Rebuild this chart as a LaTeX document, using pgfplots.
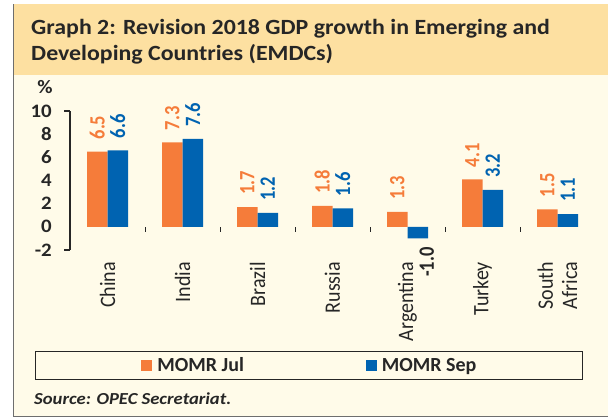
\documentclass[border=0pt]{standalone}
\usepackage{fontspec}
\setmainfont{Carlito}
\usepackage{pgfplots}
\pgfplotsset{compat=1.18}
\definecolor{julorange}{RGB}{245,124,58}
\definecolor{sepblue}{RGB}{0,99,177}
\definecolor{bandcol}{RGB}{253,224,161}
\definecolor{creamcol}{RGB}{255,251,233}
\definecolor{textdark}{RGB}{38,38,38}
\definecolor{framecol}{RGB}{110,110,110}
\begin{document}
\begin{tikzpicture}[x=1pt,y=1pt]
\path[use as bounding box] (0,0) rectangle (608,418);
\fill[creamcol] (13,2) rectangle (608,414);
\fill[bandcol] (13,343) rectangle (608,414);
\draw[framecol, line width=0.9pt] (608,2) -- (13,2) -- (13,414);
\node[anchor=base west, inner sep=0pt, xscale=1.1, text=textdark, font=\fontsize{21.7}{25}\selectfont\bfseries] at (31,383) {Graph 2: Revision 2018 GDP growth in Emerging and};
\node[anchor=base west, inner sep=0pt, xscale=1.1, text=textdark, font=\fontsize{21.7}{25}\selectfont\bfseries] at (31,357) {Developing Countries (EMDCs)};
\node[inner sep=0pt, xscale=1.1, text=textdark, font=\fontsize{19}{20}\selectfont\bfseries] at (45,331) {\%};
\node[anchor=base west, inner sep=0pt, xscale=1.11, text=textdark, font=\fontsize{16.8}{20}\selectfont\bfseries\itshape] at (34,14) {Source: OPEC Secretariat.};
\begin{axis}[
  at={(70pt,168pt)}, anchor=south west,
  width=525pt, height=139pt, scale only axis,
  xmin=-0.5, xmax=6.5, ymin=-2, ymax=10,
  axis x line*=middle, axis y line*=left,
  x axis line style={draw=none},
  y axis line style={textdark, line width=1.6pt},
  /pgf/number format/assume math mode=true,
  ybar=0pt, bar width=20.5pt,
  xtick={0,...,6},
  xticklabels={China,India,Brazil,Russia,Argentina,Turkey,{South\\Africa}},
  ytick={-2,0,...,10},
  xtick style={draw=none}, ytick style={draw=none},
  major tick length=0pt,
  x tick label style={yshift=-35pt, rotate=90, yscale=1.1, anchor=east, align=right, inner sep=0pt, font=\fontsize{20}{22}\selectfont, text=textdark},
  y tick label style={xshift=-18pt, xscale=1.1, anchor=east, inner sep=0pt, font=\fontsize{19}{20}\selectfont\bfseries, text=textdark},
  extra x ticks={0.5,1.5,2.5,3.5,4.5,5.5}, extra x tick labels={},
  extra x tick style={major tick length=5pt, tick align=outside, xtick style={draw=textdark, line width=0.8pt}},
  extra y ticks={-2,10}, extra y tick labels={},
  extra y tick style={major tick length=6pt, tick align=outside, ytick style={draw=textdark, line width=1.6pt}},
  legend style={at={(-0.0667,-0.831)}, anchor=west, draw=textdark, line width=0.8pt, fill=none,
    inner xsep=106pt, inner ysep=6pt, nodes={inner sep=0pt},
    font=\fontsize{20}{20}\selectfont\bfseries, text=textdark,
    /tikz/every odd column/.append style={column sep=5pt},
    /tikz/every even column/.append style={column sep=122pt}},
  legend columns=2,
  legend image code/.code={\fill[#1] (0pt,-5.5pt) rectangle (11pt,5.5pt);},
  nodes near coords={\pgfmathprintnumber[fixed, fixed zerofill, precision=1]{\pgfplotspointmeta}},
]
\addplot[fill=julorange, draw=none,
  nodes near coords style={yshift=12pt, rotate=90, yscale=1.18, anchor=west, inner sep=0pt, text=julorange, font=\fontsize{18.5}{19}\selectfont\bfseries}]
  coordinates {(0,6.5) (1,7.3) (2,1.7) (3,1.8) (4,1.3) (5,4.1) (6,1.5)};
\addlegendentry{MOMR Jul}
\addplot[fill=sepblue, draw=none,
  visualization depends on={rawy \as \rawy},
  nodes near coords style={/utils/exec={\ifdim\rawy pt<0pt \def\myanc{east}\def\mycol{textdark}\def\myys{-9pt}\def\myxs{9pt}\else\def\myanc{west}\def\mycol{sepblue}\def\myys{12pt}\def\myxs{0pt}\fi},
    xshift=\myxs, yshift=\myys, rotate=90, yscale=1.18, anchor=\myanc, inner sep=0pt, text=\mycol, font=\fontsize{18.5}{19}\selectfont\bfseries}]
  coordinates {(0,6.6) (1,7.6) (2,1.2) (3,1.6) (4,-1.0) (5,3.2) (6,1.1)};
\addlegendentry{MOMR Sep}
\end{axis}
\end{tikzpicture}
\end{document}
